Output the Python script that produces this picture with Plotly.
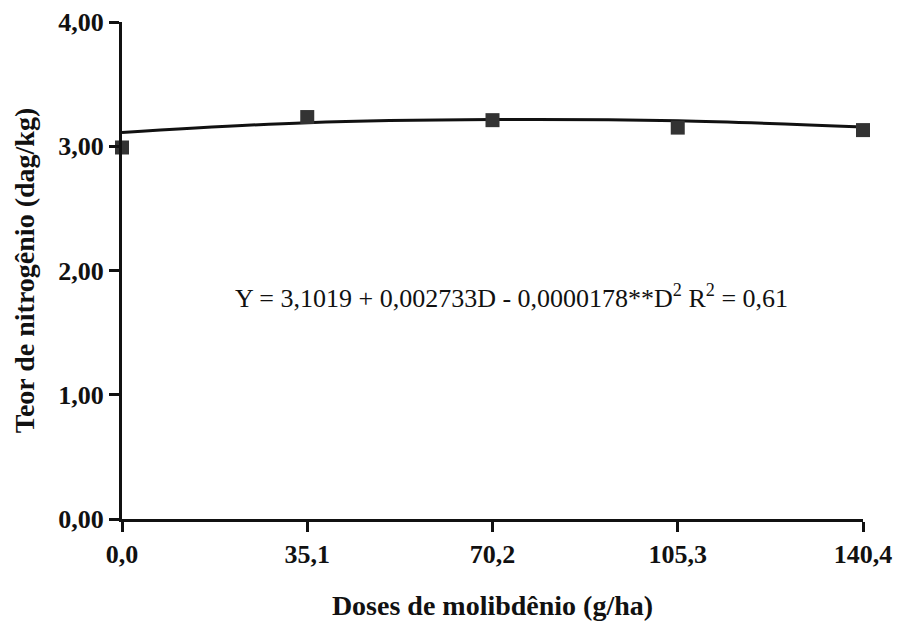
import plotly.graph_objects as go

doses = [0.0, 35.1, 70.2, 105.3, 140.4]
dose_labels = ["0,0", "35,1", "70,2", "105,3", "140,4"]
teor_obs = [2.99, 3.235, 3.21, 3.15, 3.13]
curve_x = [0.0, 35.1, 70.2, 105.3, 140.4]
curve_y = [3.11, 3.19, 3.215, 3.205, 3.155]
y_ticks = [0, 1, 2, 3, 4]
y_labels = ["0,00", "1,00", "2,00", "3,00", "4,00"]

font_serif = "Liberation Serif, Times New Roman, serif"
ink = "#111111"

fig = go.Figure()
fig.add_trace(go.Scatter(x=curve_x, y=curve_y, mode="lines",
                         line=dict(color=ink, width=3, shape="spline", smoothing=1.0),
                         showlegend=False, hoverinfo="skip"))
fig.add_trace(go.Scatter(x=doses, y=teor_obs, mode="markers",
                         marker=dict(symbol="square", size=14, color="#333333"),
                         showlegend=False, cliponaxis=False))

fig.add_annotation(x=0.525, xref="paper", y=1.79,
                   text="Y = 3,1019 + 0,002733D - 0,0000178**D<sup>2</sup> R<sup>2</sup> = 0,61",
                   showarrow=False, font=dict(family=font_serif, size=26, color=ink),
                   xanchor="center", yanchor="middle")

fig.update_layout(
    width=900, height=623,
    margin=dict(l=122, r=37, t=22, b=104),
    paper_bgcolor="white", plot_bgcolor="white",
    xaxis=dict(range=[0, 140.4], tickvals=doses,
               ticktext=["<b>%s</b>" % t for t in dose_labels],
               showline=True, linecolor=ink, linewidth=3,
               ticks="outside", ticklen=10, tickwidth=3, tickcolor=ink,
               showgrid=False, zeroline=False, automargin=False,
               tickfont=dict(family=font_serif, size=26, color=ink),
               title=dict(text="<b>Doses de molibdênio (g/ha)</b>",
                          font=dict(family=font_serif, size=28, color=ink), standoff=28)),
    yaxis=dict(range=[0, 4], tickvals=y_ticks,
               ticktext=["<b>%s</b>" % t for t in y_labels],
               showline=True, linecolor=ink, linewidth=3,
               ticks="outside", ticklen=10, tickwidth=3, tickcolor=ink,
               showgrid=False, zeroline=False, automargin=False,
               tickfont=dict(family=font_serif, size=26, color=ink),
               title=dict(text="<b>Teor de nitrogênio (dag/kg)</b>",
                          font=dict(family=font_serif, size=28, color=ink), standoff=16)),
)

fig.write_html("out.html")
